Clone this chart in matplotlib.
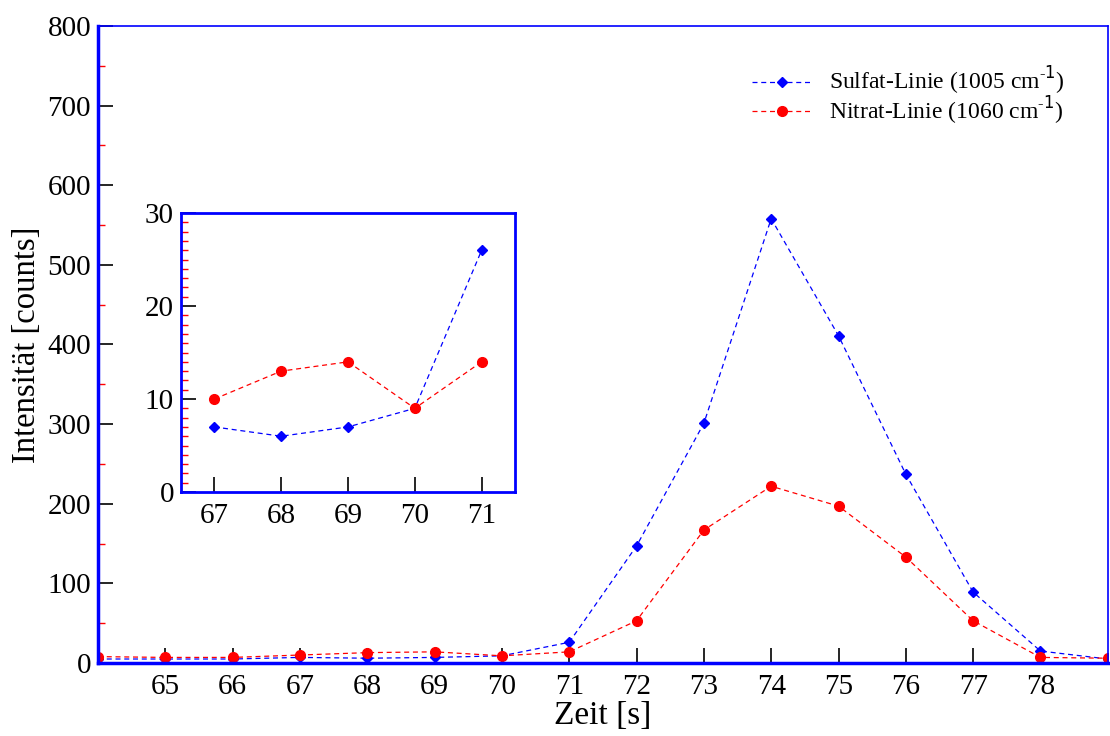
import numpy as np
import matplotlib
matplotlib.use("Agg")
import matplotlib.pyplot as plt

plt.rcParams['font.family'] = ['Liberation Serif', 'DejaVu Serif']

# data
zeit = [64, 65, 66, 67, 68, 69, 70, 71, 72, 73, 74, 75, 76, 77, 78, 79]
sulfat = [5, 5, 5, 7, 6, 7, 9, 26, 147, 301, 558, 411, 237, 89, 15, 5]
nitrat = [8, 7, 7, 10, 13, 14, 9, 14, 53, 167, 222, 197, 133, 53, 7, 6]

inset_zeit = [67, 68, 69, 70, 71]
inset_sulfat = [7, 6, 7, 9, 26]
inset_nitrat = [10, 13, 14, 9, 14]

fig = plt.figure(figsize=(11.1, 7.36), dpi=100)
ax = fig.add_axes([0.0883, 0.0992, 0.9097, 0.8655])

ax.plot(zeit, sulfat, color='blue', ls=(0, (4, 3)), lw=0.9, marker='D', ms=5,
        label='Sulfat-Linie (1005 cm$^{\\mathregular{\u2010}1}$)')
ax.plot(zeit, nitrat, color='red', ls=(0, (4, 3)), lw=0.9, marker='o', ms=7,
        label='Nitrat-Linie (1060 cm$^{\\mathregular{\u2010}1}$)')

ax.set_xlim(64, 79)
ax.set_ylim(0, 800)
ax.set_xticks(range(65, 79))
ax.set_xticks(range(65, 79), minor=True)
ax.set_yticks(range(0, 801, 100))
ax.set_yticks(range(50, 800, 100), minor=True)
ax.tick_params(which='major', direction='in', length=11, width=1.2, color='black',
               labelsize=21, pad=8)
ax.tick_params(which='minor', direction='in', length=5, width=1.0, color='red')
ax.tick_params(axis='y', which='major', pad=5)

for side in ['left', 'bottom']:
    ax.spines[side].set_color('blue')
    ax.spines[side].set_linewidth(2.5)
for side in ['top', 'right']:
    ax.spines[side].set_color('blue')
    ax.spines[side].set_linewidth(1.2)

ax.set_xlabel('Zeit [s]', fontsize=24, labelpad=0)
ax.set_ylabel('Intensität [counts]', fontsize=23.5, labelpad=4)

leg = ax.legend(loc='upper right', bbox_to_anchor=(0.978, 0.972), frameon=False,
                fontsize=17, handlelength=2.5, handletextpad=0.72, labelspacing=-0.1)

# inset
axi = fig.add_axes([0.163, 0.3315, 0.301, 0.379])
axi.plot(inset_zeit, inset_sulfat, color='blue', ls=(0, (4, 3)), lw=0.9, marker='D', ms=5)
axi.plot(inset_zeit, inset_nitrat, color='red', ls=(0, (4, 3)), lw=0.9, marker='o', ms=7)
axi.set_xlim(66.5, 71.5)
axi.set_ylim(0, 30)
axi.set_xticks(inset_zeit)
axi.set_xticks(inset_zeit, minor=True)
axi.set_yticks([0, 10, 20, 30])
axi.set_yticks([v for v in range(1, 30) if v % 10 != 0], minor=True)
axi.tick_params(which='major', direction='in', length=11, width=1.2, color='black',
                labelsize=21, pad=8)
axi.tick_params(which='minor', direction='in', length=5, width=1.0, color='red')
axi.tick_params(axis='y', which='major', pad=5)
for side in axi.spines:
    axi.spines[side].set_color('blue')
    axi.spines[side].set_linewidth(2)

fig.savefig('out.png', dpi=100)
